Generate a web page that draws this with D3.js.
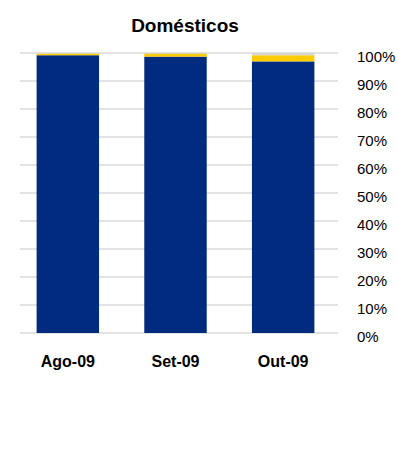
<!DOCTYPE html>
<html><head><meta charset="utf-8">
<script src="https://cdn.jsdelivr.net/npm/d3@7/dist/d3.min.js"></script>
<style>body{margin:0;background:#fff;font-family:"Liberation Sans",Arial,sans-serif;}</style>
</head><body><svg id="c" width="397" height="459"></svg>
<script>
const categories = ["Ago-09", "Set-09", "Out-09"];
const seriesNames = ["Principal", "Secundário", "Outros"];
const principal = [99.2, 98.7, 97.0];
const secundario = [0.6, 1.1, 2.2];
const outros = [0.2, 0.2, 0.8];
const tickValues = [0,10,20,30,40,50,60,70,80,90,100];
const colors = ["#002B7F", "#FFCC00", "#D4D4D4"];

const svg = d3.select("#c");
const x = d3.scaleBand().domain(categories).range([14, 337]).paddingInner(0.42).paddingOuter(0.21);
const y = d3.scaleLinear().domain([0, 100]).range([333, 53]);

// gridlines
svg.append("g").selectAll("line").data(tickValues).join("line")
  .attr("x1", 20).attr("x2", 338)
  .attr("y1", d => y(d)).attr("y2", d => y(d))
  .attr("stroke", "#c8c8c8").attr("stroke-width", 1.2);

const rows = categories.map((c, i) => ({cat: c, s0: principal[i], s1: secundario[i], s2: outros[i]}));
const stack = d3.stack().keys(["s0","s1","s2"])(rows);
svg.append("g").selectAll("g").data(stack).join("g")
  .attr("fill", (d, i) => colors[i])
  .selectAll("rect").data(d => d).join("rect")
  .attr("x", d => x(d.data.cat))
  .attr("width", x.bandwidth())
  .attr("y", d => y(d[1]))
  .attr("height", d => y(d[0]) - y(d[1]));

// right axis
const ax = d3.axisRight(y).tickValues(tickValues).tickFormat(d => d + "%").tickSize(0).tickPadding(0);
const g = svg.append("g").attr("transform", "translate(357,4)").call(ax);
g.select(".domain").remove();
g.selectAll("text").attr("font-size", 15).attr("font-family", "Liberation Sans, Arial, sans-serif").attr("fill", "#000");

// category labels
const bx = d3.axisBottom(x).tickSize(0).tickPadding(0);
const gb = svg.append("g").attr("transform", "translate(0,356)").call(bx);
gb.select(".domain").remove();
gb.selectAll("text").attr("font-size", 16).attr("font-weight", "bold").attr("font-family", "Liberation Sans, Arial, sans-serif").attr("fill", "#000");

svg.append("text").attr("x", 185).attr("y", 32).attr("text-anchor", "middle")
  .attr("font-size", 19).attr("font-weight", "bold").text("Domésticos");
</script></body></html>
